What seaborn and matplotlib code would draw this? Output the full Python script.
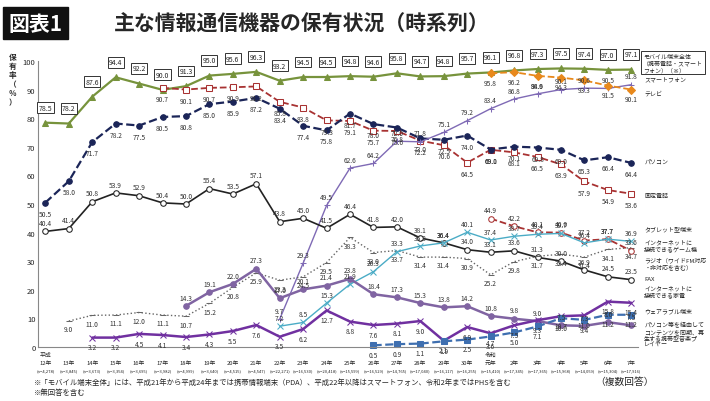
import numpy as np
import pandas as pd
import seaborn as sns
from matplotlib import pyplot as plt
from matplotlib import transforms

sns.set_theme(style="white")
plt.rcParams['font.family'] = ['Noto Sans CJK JP', 'DejaVu Sans']

years = ["12年", "13年", "14年", "15年", "16年", "17年", "18年", "19年", "20年", "21年", "22年", "23年", "24年",
         "25年", "26年", "27年", "28年", "29年", "30年", "元年", "2年", "3年", "4年", "5年", "6年", "7年"]
eras = {0: "平成", 19: "令和"}
n_sizes = ["4,278", "3,845", "3,673", "3,354", "3,695", "3,982", "4,999", "3,640", "4,515", "4,547", "22,271", "16,530",
           "20,418", "15,599", "16,529", "14,765", "17,040", "16,117", "16,255", "15,410", "17,345", "17,365", "15,968",
           "14,059", "15,304", "17,916"]
N = np.nan
mobile = [78.5, 78.2, 87.6, 94.4, 92.2, 90.0, 91.3, 95.0, 95.6, 96.3, 93.2, 94.5, 94.5, 94.8, 94.6, 95.8, 94.7, 94.8,
          95.7, 96.1, 96.8, 97.3, 97.5, 97.4, 97.0, 97.1]
fixed = [N]*5 + [90.7, 90.1, 90.7, 90.9, 91.2, 85.8, 83.8, 79.3, 79.1, 75.7, 75.6, 72.2, 70.6, 64.5, 69.0, 68.1, 66.5,
                 63.9, 57.9, 54.9, 53.6]
pc = [50.5, 58.0, 71.7, 78.2, 77.5, 80.5, 80.8, 85.0, 85.9, 87.2, 83.4, 77.4, 75.8, 81.7, 78.0, 76.8, 73.0, 72.5, 74.0,
      69.1, 70.1, 69.8, 69.0, 65.3, 66.4, 64.4]
smart = [N]*10 + [9.7, 29.3, 49.5, 62.6, 64.2, 72.0, 71.8, 75.1, 79.2, 83.4, 86.8, 88.6, 90.1, 90.6, 90.5, 91.8]
tv = [N]*19 + [95.8, 96.2, 94.9, 94.3, 93.3, 91.5, 90.1]
fax = [40.4, 41.4, 50.8, 53.9, 52.9, 50.4, 50.0, 55.4, 53.5, 57.1, 43.8, 45.0, 41.5, 46.4, 41.8, 42.0, 38.1, 36.4, 34.0,
       33.1, 33.6, 31.3, 30.0, 26.9, 24.5, 23.5]
radio = [N, 9.0, 11.0, 11.1, 12.0, 11.1, 10.7, 15.2, 20.8, 25.9, 23.3, 24.5, 29.5, 38.3, 33.0, 33.7, 31.4, 31.4, 30.9,
         25.2, 29.8, 31.7, 32.4, 31.4, 34.1, 34.7]
game = [N]*19 + [44.9, 42.2, 40.1, 40.0, 37.2, 37.7, 33.6]
tablet = [N]*10 + [7.2, 8.5, 15.3, 21.9, 26.3, 33.3, 35.3, 36.4, 40.1, 37.4, 38.7, 39.4, 39.7, 36.4, 37.7, 36.9]
net_tv = [N]*6 + [14.3, 19.1, 22.0, 27.3, 17.0, 20.1, 21.4, 23.8, 18.4, 17.3, 15.3, 13.8, 14.2, 10.8, 9.8, 9.0, 7.5,
                  7.3, 8.6, 7.5]
music = [N, N, 3.2, 3.2, 4.5, 4.1, 3.4, 4.3, 5.5, 7.6, 3.5, 6.2, 12.7, 8.8, 7.6, 8.1, 9.0, 2.1, 6.9, 4.7, 7.5, 9.3,
         10.7, 11.0, 15.8, 15.4]
wear = [N]*14 + [0.5, 0.9, 1.1, 1.9, 2.5, 3.6, 5.0, 7.1, 10.0, 9.4, 11.2, 11.2]

x = np.arange(len(years))
fig = plt.figure(figsize=(7.1, 4.02), dpi=100)
ax = fig.add_axes([0.054, 0.135, 0.845, 0.71])

# name, values, colour, linestyle, marker, marker face, lw, label offset (pt), legend text, legend y
series = [
    ("mobile", mobile, "#77933C", "-", "^", "#77933C", 1.6, 0, None, None),
    ("fixed", fixed, "#A83232", "--", "s", "white", 1.3, -8, "固定電話", 53),
    ("pc", pc, "#1B2558", "--", "o", "#1B2558", 1.6, -8, "パソコン", 65),
    ("smart", smart, "#7F6AB5", "-", "+", "#7F6AB5", 1.0, 6, "スマートフォン", 94),
    ("tv", tv, "#E8891C", "--", "D", "#E8891C", 1.3, -7, "テレビ", 89),
    ("fax", fax, "#222222", "-", "o", "white", 1.2, 6, "FAX", 24),
    ("radio", radio, "#666666", ":", "_", "#333333", 1.0, -6, "ラジオ（ワイドFM対応\n・非対応を含む）", 29.5),
    ("game", game, "#A83232", "--", "o", "white", 1.3, 6, "インターネットに\n接続できるゲーム機", 35.5),
    ("tablet", tablet, "#4BACC6", "-", "x", "#4BACC6", 1.0, 6, "タブレット型端末", 41.5),
    ("net_tv", net_tv, "#8064A2", "-", "o", "#8064A2", 1.8, 6, "インターネットに\n接続できる家電", 19.5),
    ("music", music, "#7030A0", "-", "x", "#7030A0", 1.8, -7, "パソコン等を経由して\nコンテンツを同期、再\n生する携帯型音楽プ\nレイヤー", 4.5),
    ("wear", wear, "#3E6FB0", "--", "s", "#3E6FB0", 1.6, -7, "ウェアラブル端末", 12.5),
]

for name, vals, col, ls, mk, mf, lw, off, leg, ly in series:
    df = pd.DataFrame({"x": x, "y": vals}).dropna()
    sns.lineplot(data=df, x="x", y="y", ax=ax, color=col, linestyle=ls, marker=mk, markerfacecolor=mf,
                 markeredgecolor=col, markersize=4, linewidth=lw, clip_on=False)
    for xi, yi in zip(df["x"], df["y"]):
        if name == "mobile":
            ax.annotate(f"{yi:.1f}", (xi, yi), xytext=(0, 8), textcoords="offset points", ha="center",
                        va="bottom", fontsize=5, annotation_clip=False,
                        bbox=dict(boxstyle="square,pad=0.2", fc="white", ec="#333333", lw=0.7))
        else:
            ax.annotate(f"{yi:.1f}", (xi, yi), xytext=(0, off), textcoords="offset points", ha="center",
                        va="center", fontsize=4.8, color="#333333", annotation_clip=False)
    if leg:
        ax.text(25.55, ly, leg, fontsize=4.3, va="center", ha="left", color="#222222", linespacing=1.2)

ax.text(25.5, 99.5, "モバイル端末全体\n（携帯電話・スマート\nフォン）（※）", fontsize=4.3, va="center", ha="left",
        bbox=dict(boxstyle="square,pad=0.4", fc="white", ec="#333333", lw=0.7))

ax.set_xlim(-0.3, 25.3)
ax.set_ylim(0, 100)
ax.set_yticks(range(0, 101, 10))
ax.tick_params(axis="y", labelsize=5.5, length=0, pad=2)
ax.set_xticks(x)
ax.set_xticklabels([])
ax.tick_params(axis="x", length=0)
tr = transforms.blended_transform_factory(ax.transData, ax.transAxes)
for i in x:
    if i in eras:
        ax.text(i, -0.027, eras[i], transform=tr, fontsize=4.2, ha="center", va="center")
    ax.text(i, -0.055, years[i], transform=tr, fontsize=4.2, ha="center", va="center")
    ax.text(i, -0.083, f"(n={n_sizes[i]})", transform=tr, fontsize=3.0, ha="center", va="center")
ax.set_xlabel("")
ax.set_ylabel("")
for s in ["top", "right"]:
    ax.spines[s].set_visible(False)
for s in ["left", "bottom"]:
    ax.spines[s].set_color("#888888")
    ax.spines[s].set_linewidth(0.8)

fig.text(0.012, 0.8, "保\n有\n率\n（\n％\n）", fontsize=5.5, va="center", ha="left", linespacing=1.0, fontweight="bold")

fig.text(0.012, 0.94, "図表1", fontsize=15, color="white", fontweight="bold", va="center", ha="left",
         bbox=dict(boxstyle="square,pad=0.25", fc="#111111", ec="#111111"))
fig.text(0.16, 0.94, "主な情報通信機器の保有状況（時系列）", fontsize=15, fontweight="bold", va="center", ha="left")

fig.text(0.048, 0.035, "※「モバイル端末全体」には、平成21年から平成24年までは携帯情報端末（PDA）、平成22年以降はスマートフォン、令和2年まではPHSを含む\n※無回答を含む",
         fontsize=5.3, va="center", ha="left", linespacing=1.4)
fig.text(0.88, 0.05, "（複数回答）", fontsize=7, va="center", ha="center")

fig.savefig("out.png", dpi=100)
